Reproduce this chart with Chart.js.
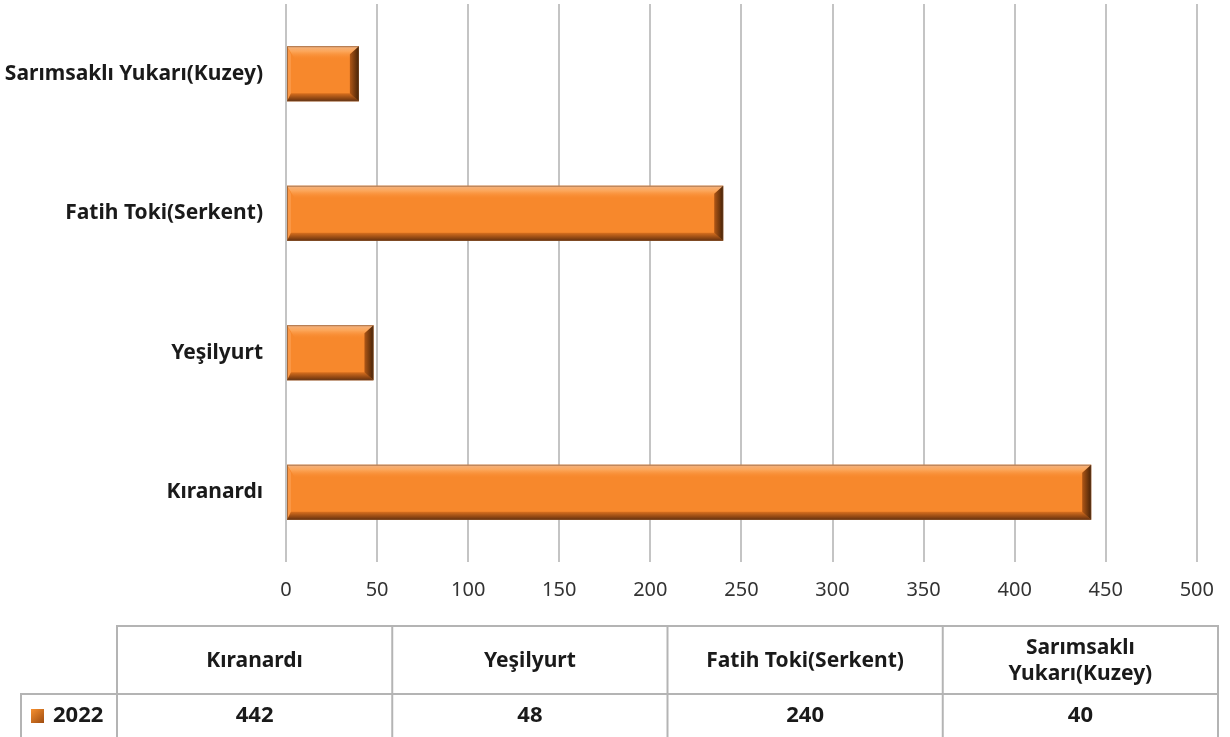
<!DOCTYPE html>
<html>
<head>
<meta charset="utf-8">
<script src="https://cdn.jsdelivr.net/npm/chart.js@4"></script>
<style>
  html, body { margin: 0; padding: 0; background: #fff; }
  #wrap { width: 1230px; height: 737px; position: relative; }
</style>
</head>
<body>
<div id="wrap"><canvas id="barChart"></canvas></div>
<script>
    'use strict';

    // Kategoriler ve değerler (tablodaki sırayla)
    const categories = ['Kıranardı', 'Yeşilyurt', 'Fatih Toki(Serkent)', 'Sarımsaklı Yukarı(Kuzey)'];
    const values2022 = [442, 48, 240, 40];
    const seriesName = '2022';
    const xTicks = [0, 50, 100, 150, 200, 250, 300, 350, 400, 450, 500];

    const FONT = '"Noto Sans", "Open Sans", sans-serif';

    // Excel tarzı kabartma (bevel) efekti - çubukların üzerine çizilir
    const bevelPlugin = {
        id: 'bevel',
        afterDatasetsDraw(chart) {
            const ctx = chart.ctx;
            const meta = chart.getDatasetMeta(0);
            meta.data.forEach(el => {
                const p = el.getProps(['x', 'y', 'base', 'height'], true);
                const l = Math.min(p.base, p.x), r = Math.max(p.base, p.x);
                const t = p.y - p.height / 2, b = p.y + p.height / 2;
                const s = 8;

                ctx.save();
                // üst kenar
                let g = ctx.createLinearGradient(0, t, 0, t + s + 5);
                g.addColorStop(0, '#F2B383');
                g.addColorStop(0.4, '#FCA659');
                g.addColorStop(1, 'rgba(250,140,50,0)');
                poly(ctx, [[l, t], [r, t], [r - s, t + s + 5], [l + s, t + s + 5]], g);

                // sol kenar
                poly(ctx, [[l, t], [l + s - 4, t + s], [l + s - 4, b - s], [l, b]], 'rgba(252,170,100,0.45)');

                // alt kenar
                g = ctx.createLinearGradient(0, b - s, 0, b);
                g.addColorStop(0, '#D86F1E');
                g.addColorStop(1, '#66300D');
                poly(ctx, [[l, b], [r, b], [r - s, b - s], [l + s - 4, b - s]], g);

                // sağ kenar
                g = ctx.createLinearGradient(r - s - 1, 0, r, 0);
                g.addColorStop(0, '#B05716');
                g.addColorStop(1, '#462207');
                poly(ctx, [[r, t], [r, b], [r - s - 1, b - s], [r - s - 1, t + s]], g);

                // ince dış çizgi
                ctx.strokeStyle = 'rgba(110,70,40,0.55)';
                ctx.lineWidth = 1;
                ctx.strokeRect(l + 0.5, t + 0.5, r - l - 1, b - t - 1);
                ctx.restore();
            });
        }
    };

    function poly(ctx, pts, fill) {
        ctx.beginPath();
        ctx.moveTo(pts[0][0], pts[0][1]);
        for (let i = 1; i < pts.length; i++) ctx.lineTo(pts[i][0], pts[i][1]);
        ctx.closePath();
        ctx.fillStyle = fill;
        ctx.fill();
    }

    // Veri tablosu (grafiğin altında)
    const dataTablePlugin = {
        id: 'dataTable',
        afterDraw(chart) {
            const ctx = chart.ctx;
            const left = 117, right = 1218, legendLeft = 21;
            const headTop = 626, rowTop = 694, rowBottom = 745;
            const colW = (right - left) / categories.length;

            ctx.save();
            ctx.strokeStyle = '#b4b4b4';
            ctx.lineWidth = 2;

            // çerçeveler
            ctx.strokeRect(left, headTop, right - left, rowTop - headTop);
            ctx.strokeRect(legendLeft, rowTop, right - legendLeft, rowBottom - rowTop);
            for (let i = 1; i < categories.length; i++) {
                ctx.beginPath();
                ctx.moveTo(left + colW * i, headTop);
                ctx.lineTo(left + colW * i, rowBottom);
                ctx.stroke();
            }
            ctx.beginPath();
            ctx.moveTo(left, rowTop);
            ctx.lineTo(left, rowBottom);
            ctx.stroke();

            ctx.fillStyle = '#1a1a1a';
            ctx.textAlign = 'center';
            ctx.textBaseline = 'middle';

            categories.forEach((cat, i) => {
                const cx = left + colW * i + colW / 2;
                ctx.font = 'bold 21px ' + FONT;
                const lines = wrapText(ctx, cat, colW - 40);
                const lh = 26;
                const startY = (headTop + rowTop) / 2 + 1 - (lines.length - 1) * lh / 2;
                lines.forEach((ln, j) => ctx.fillText(ln, cx, startY + j * lh));

                ctx.font = 'bold 22px ' + FONT;
                ctx.fillText(String(values2022[i]), cx, 716);
            });

            // lejant
            const sq = ctx.createLinearGradient(31, 709, 44, 723);
            sq.addColorStop(0, '#F7902F');
            sq.addColorStop(1, '#9E4C10');
            ctx.fillStyle = sq;
            ctx.fillRect(31, 709, 13, 14);
            ctx.fillStyle = '#1a1a1a';
            ctx.textAlign = 'left';
            ctx.font = 'bold 22px ' + FONT;
            ctx.fillText(seriesName, 53, 716);
            ctx.restore();
        }
    };

    function wrapText(ctx, text, maxW) {
        const words = text.split(' ');
        const lines = [];
        let cur = '';
        words.forEach(w => {
            const test = cur ? cur + ' ' + w : w;
            if (cur && ctx.measureText(test).width > maxW) {
                lines.push(cur);
                cur = w;
            } else {
                cur = test;
            }
        });
        if (cur) lines.push(cur);
        return lines;
    }

    const canvas = document.getElementById('barChart');
    canvas.width = 1230;
    canvas.height = 737;

    new Chart(canvas.getContext('2d'), {
        type: 'bar',
        data: {
            labels: categories,
            datasets: [{
                label: seriesName,
                data: values2022,
                backgroundColor: '#F7882C',
                borderWidth: 0,
                categoryPercentage: 1,
                barPercentage: 0.395
            }]
        },
        options: {
            indexAxis: 'y',
            responsive: false,
            animation: false,
            layout: {
                padding: { top: 4, right: 31, bottom: 0, left: 0 }
            },
            plugins: {
                legend: { display: false },
                tooltip: { enabled: false }
            },
            scales: {
                x: {
                    min: 0,
                    max: 500,
                    afterBuildTicks: function(scale) {
                        scale.ticks = xTicks.map(v => ({ value: v }));
                    },
                    afterFit: function(scale) {
                        scale.height = 175;
                    },
                    grid: {
                        color: '#c4c4c4',
                        lineWidth: 2,
                        drawTicks: false
                    },
                    border: { display: false },
                    ticks: {
                        padding: 16,
                        color: '#333',
                        font: { family: FONT, size: 20 }
                    }
                },
                y: {
                    reverse: true,
                    afterFit: function(scale) {
                        scale.width = 286;
                        scale.paddingTop = 0;
                        scale.paddingBottom = 0;
                    },
                    grid: { display: false, drawTicks: false },
                    border: { display: false },
                    ticks: {
                        padding: 23,
                        color: '#1a1a1a',
                        font: { family: FONT, size: 21, weight: 'bold' }
                    }
                }
            }
        },
        plugins: [bevelPlugin, dataTablePlugin]
    });
</script>
</body>
</html>
